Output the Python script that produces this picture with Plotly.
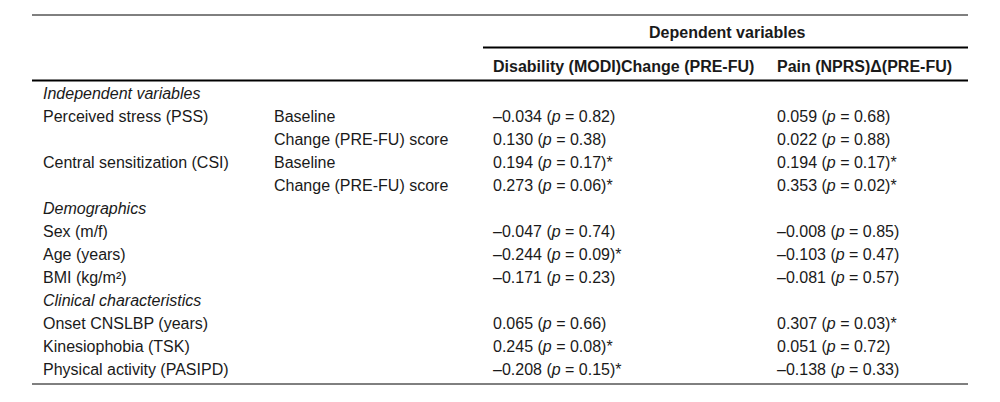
import plotly.graph_objects as go

# ---- data ----
row_labels = ["Independent variables", "Perceived stress (PSS)", "", "Central sensitization (CSI)", "",
              "Demographics", "Sex (m/f)", "Age (years)", "BMI (kg/m²)",
              "Clinical characteristics", "Onset CNSLBP (years)", "Kinesiophobia (TSK)",
              "Physical activity (PASIPD)"]
is_section = [True, False, False, False, False, True, False, False, False, True, False, False, False]
sub_labels = ["", "Baseline", "Change (PRE-FU) score", "Baseline", "Change (PRE-FU) score",
              "", "", "", "", "", "", "", ""]
modi_r = [None, -0.034, 0.130, 0.194, 0.273, None, -0.047, -0.244, -0.171, None, 0.065, 0.245, -0.208]
modi_p = [None, 0.82, 0.38, 0.17, 0.06, None, 0.74, 0.09, 0.23, None, 0.66, 0.08, 0.15]
nprs_r = [None, 0.059, 0.022, 0.194, 0.353, None, -0.008, -0.103, -0.081, None, 0.307, 0.051, -0.138]
nprs_p = [None, 0.68, 0.88, 0.17, 0.02, None, 0.85, 0.47, 0.57, None, 0.03, 0.72, 0.33]
group_header = "Dependent variables"
col_headers = ["Disability (MODI)Change (PRE-FU)", "Pain (NPRS)Δ(PRE-FU)"]

FONT = "Liberation Sans, Arial, sans-serif"
SIZE = 16
INK = "#1a1a1a"


def fmt(r, p):
    if r is None:
        return ""
    s = f"{abs(r):.3f}"
    if r < 0:
        s = "–" + s
    s += f" (<i>p</i> = {p:.2f})"
    if p < 0.2:
        s += "*"
    return s


# layout positions (pixels)
X_COL = [41, 272, 491, 775]
Y0, DY = 93, 23
L, R = 32, 968

fig = go.Figure()
ann = []


def txt(x, y, s, bold=False, anchor="left"):
    if bold:
        s = "<b>" + s + "</b>"
    ann.append(dict(x=x, y=y, text=s, xref="x", yref="y", xanchor=anchor, yanchor="middle",
                    showarrow=False, font=dict(family=FONT, size=SIZE, color=INK)))


txt((483 + R) / 2 + 2, 32, group_header, bold=True, anchor="center")
txt(X_COL[2], 66, col_headers[0], bold=True)
txt(X_COL[3], 66, col_headers[1], bold=True)

for i, lab in enumerate(row_labels):
    y = Y0 + DY * i
    if lab:
        txt(X_COL[0], y, f"<i>{lab}</i>" if is_section[i] else lab)
    if sub_labels[i]:
        txt(X_COL[1], y, sub_labels[i])
    if modi_r[i] is not None:
        txt(X_COL[2], y, fmt(modi_r[i], modi_p[i]))
    if nprs_r[i] is not None:
        txt(X_COL[3], y, fmt(nprs_r[i], nprs_p[i]))

shapes = [
    dict(type="line", x0=L, x1=R, y0=15, y1=15, line=dict(color="black", width=1)),
    dict(type="line", x0=483, x1=R, y0=47.5, y1=47.5, line=dict(color="black", width=2)),
    dict(type="line", x0=L, x1=R, y0=80.5, y1=80.5, line=dict(color="black", width=2)),
    dict(type="line", x0=L, x1=R, y0=384, y1=384, line=dict(color="black", width=1)),
]
for s in shapes:
    s.update(xref="x", yref="y")

fig.update_layout(
    width=1000, height=402, margin=dict(l=0, r=0, t=0, b=0),
    paper_bgcolor="white", plot_bgcolor="white",
    xaxis=dict(range=[0, 1000], visible=False, fixedrange=True),
    yaxis=dict(range=[402, 0], visible=False, fixedrange=True),
    annotations=ann, shapes=shapes, showlegend=False,
)
fig.write_html("out.html", config={"displayModeBar": False},
               post_script="document.body.style.margin='0';document.body.style.overflow='hidden';")
